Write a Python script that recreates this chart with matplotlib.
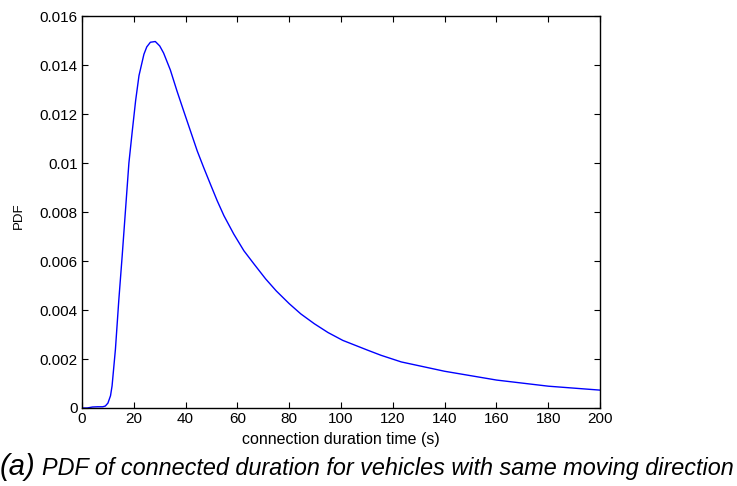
import matplotlib
matplotlib.use('Agg')
import matplotlib.pyplot as plt

# connection duration (s) and PDF values
duration = [0, 2, 3, 4, 6, 8, 9, 10, 11, 11.6, 12.9, 14.2, 15.5, 16.8, 18.1, 19.4,
            20.7, 22.0, 23.9, 25.0, 26.4, 28.3, 30.0, 31.5, 34.1, 36.7, 39.3,
            41.9, 44.5, 47.0, 49.6, 52.2, 54.8, 58.6, 62.5, 66.4, 70.9, 75.0,
            80.0, 84.5, 89.7, 95.0, 100.7, 110.3, 115.5, 123.3, 140.0, 160.1,
            180.1, 200]
pdf = [0, 0, 0.00002, 0.00004, 0.00005, 0.00005, 0.00008, 0.0002, 0.0005, 0.0009,
       0.0024, 0.0044, 0.0062, 0.0081, 0.0100, 0.0113, 0.01255, 0.01357, 0.01444,
       0.01474, 0.01493, 0.01496, 0.01478, 0.01449, 0.0138, 0.01293, 0.01211,
       0.0113, 0.01049, 0.00981, 0.00913, 0.00846, 0.00785, 0.0071, 0.00642,
       0.00588, 0.00527, 0.00478, 0.00426, 0.00384, 0.00344, 0.00308, 0.00276,
       0.00236, 0.00215, 0.00188, 0.0015, 0.00114, 0.00089, 0.00073]

xticks = list(range(0, 201, 20))
yticks = [0, 0.002, 0.004, 0.006, 0.008, 0.01, 0.012, 0.014, 0.016]
ytick_labels = ['0', '0.002', '0.004', '0.006', '0.008', '0.01', '0.012', '0.014', '0.016']

plt.rcParams['font.family'] = ['Liberation Sans', 'DejaVu Sans']

fig = plt.figure(figsize=(7.37, 4.86), dpi=100)
ax = fig.add_axes([0.1113, 0.1605, 0.7027, 0.8065])
ax.plot(duration, pdf, color='#0000ff', lw=1.0)

ax.set_xlim(0, 200)
ax.set_ylim(0, 0.016)
ax.set_xticks(xticks)
ax.set_xticklabels([str(t) for t in xticks])
ax.set_yticks(yticks)
ax.set_yticklabels(ytick_labels)
ax.tick_params(direction='in', length=4, width=0.8, labelsize=11,
               top=True, right=True, pad=3)
for s in ax.spines.values():
    s.set_linewidth(1.0)

ax.set_xlabel('connection duration time (s)', fontsize=11.5, labelpad=4)
ax.set_ylabel('PDF', fontsize=9.5)
ax.yaxis.set_label_coords(-0.11, 0.49)

fig.text(0.0, 0.0226, '(a)', fontsize=21, style='italic', ha='left', va='baseline')
fig.text(0.057, 0.0226, 'PDF of connected duration for vehicles with same moving direction',
         fontsize=16.8, style='italic', ha='left', va='baseline')

fig.savefig('out.png', dpi=100)
